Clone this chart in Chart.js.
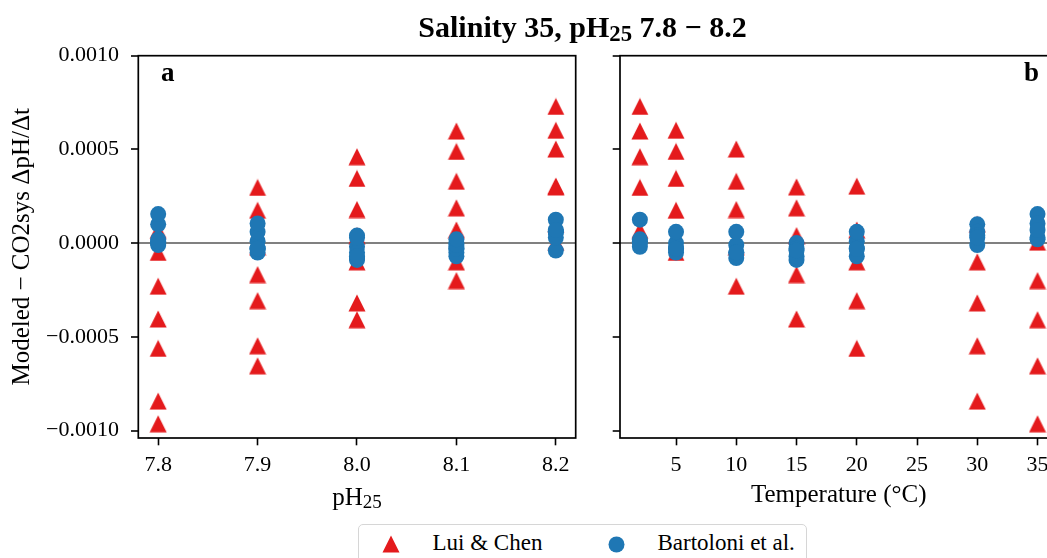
<!DOCTYPE html>
<html>
<head>
<meta charset="utf-8">
<script src="https://cdn.jsdelivr.net/npm/chart.js@4.4.0/dist/chart.umd.min.js"></script>
<style>
html, body { margin:0; padding:0; width:1047px; height:558px; overflow:hidden; background:#fff; }
body { position:relative; font-family:'Liberation Serif','Times New Roman',serif; color:#000; }
#cLeft { position:absolute; left:0; top:0; }
#cRight { position:absolute; left:600px; top:0; }
.txt { position:absolute; white-space:nowrap; line-height:1; }
.sub { position:relative; top:0.2em; font-size:0.76em; }
#title { left:582.5px; top:11.6px; font-size:30px; font-weight:bold; transform:translateX(-50%); }
#xlabL { left:357px; top:483.6px; font-size:25px; transform:translateX(-50%); }
#panA { left:161px; top:58.9px; font-size:27px; font-weight:bold; }
#panB { left:1039px; top:58.9px; font-size:27px; font-weight:bold; transform:translateX(-100%); }
#legend { position:absolute; left:358px; top:524px; width:449px; height:60px; border:1px solid #d6d6d6; border-radius:5px; background:#fff; box-sizing:border-box; }
.lt { font-size:23px; top:531.4px; }
.lm { position:absolute; }
</style>
</head>
<body>
<canvas id="cLeft" width="600" height="558"></canvas>
<canvas id="cRight" width="480" height="558"></canvas>
<div id="title" class="txt">Salinity 35, pH<span class="sub">25</span> 7.8 − 8.2</div>
<div id="xlabL" class="txt">pH<span class="sub">25</span></div>
<div id="panA" class="txt">a</div>
<div id="panB" class="txt">b</div>
<div id="legend"></div>
<script>
// ---------------- DATA ----------------
const temps = [2, 5, 10, 15, 20, 30, 35];
const pHs = [7.8, 7.9, 8.0, 8.1, 8.2];

// Lui & Chen: Modeled - CO2sys dpH/dt, one array per pH25, values over temps
const luiChen_78 = [0.000068, -0.00005, -0.00023, -0.000405, -0.000562, -0.000843, -0.000964];
const luiChen_79 = [0.000297, 0.000175, -0.00002, -0.000168, -0.000307, -0.000548, -0.000655];
const luiChen_80 = [0.000461, 0.000345, 0.000179, 0.00004, -0.0001, -0.000319, -0.000409];
const luiChen_81 = [0.000598, 0.000489, 0.00033, 0.000188, 0.00007, -0.0001, -0.0002];
const luiChen_82 = [0.000729, 0.000602, 0.000502, 0.0003, 0.000304, 0.0001, 0.000005];

// Bartoloni et al.
const bartoloni_78 = [0.00002, 0.0, -0.00001, 0.0, 0.00001, 0.0001, 0.000155];
const bartoloni_79 = [0.00001, -0.00003, -0.00005, -0.00003, -0.00003, 0.00006, 0.000105];
const bartoloni_80 = [-0.00002, -0.00005, -0.00008, -0.00009, -0.00007, 0.00004, 0.00003];
const bartoloni_81 = [0.0, -0.00003, -0.00005, -0.00007, -0.00003, -0.00001, 0.00002];
const bartoloni_82 = [0.000125, 0.00006, 0.00006, -0.00004, 0.00006, 0.00003, 0.00007];

const seriesNames = ['Lui & Chen', 'Bartoloni et al.'];

const xTicksPH = [7.8, 7.9, 8.0, 8.1, 8.2];
const xTickLabelsPH = ['7.8', '7.9', '8.0', '8.1', '8.2'];
const xTicksT = [5, 10, 15, 20, 25, 30, 35];
const xTickLabelsT = ['5', '10', '15', '20', '25', '30', '35'];
const yTicks = [-0.001, -0.0005, 0, 0.0005, 0.001];
const yTickLabels = ['\u22120.0010', '\u22120.0005', '0.0000', '0.0005', '0.0010'];

// ---------------- STYLE ----------------
const FONT = "'Liberation Serif', 'Times New Roman', serif";
const TICK_SIZE = 22;
const RED = '#e41a1c';
const BLUE = '#1f77b4';

const luiChen = [luiChen_78, luiChen_79, luiChen_80, luiChen_81, luiChen_82];
const bartoloni = [bartoloni_78, bartoloni_79, bartoloni_80, bartoloni_81, bartoloni_82];

function makeTriangle(size) {
  const c = document.createElement('canvas');
  c.width = size; c.height = size;
  const g = c.getContext('2d');
  g.fillStyle = RED;
  g.beginPath();
  g.moveTo(size / 2, 0.5);
  g.lineTo(0.5, size - 0.5);
  g.lineTo(size - 0.5, size - 0.5);
  g.closePath();
  g.fill();
  return c;
}
function makeCircle(size) {
  const c = document.createElement('canvas');
  c.width = size; c.height = size;
  const g = c.getContext('2d');
  g.fillStyle = BLUE;
  g.beginPath();
  g.arc(size / 2, size / 2, size / 2 - 0.5, 0, Math.PI * 2);
  g.fill();
  return c;
}
const triImg = makeTriangle(18);

function pointsBy(matrix, useTemp) {
  const pts = [];
  for (let i = 0; i < pHs.length; i++) {
    for (let j = 0; j < temps.length; j++) {
      pts.push({ x: useTemp ? temps[j] : pHs[i], y: matrix[i][j] });
    }
  }
  return pts;
}

function datasets(useTemp) {
  return [
    { label: seriesNames[0], data: pointsBy(luiChen, useTemp), pointStyle: triImg, pointRadius: 9,
      backgroundColor: RED, borderColor: RED, order: 1, showLine: false },
    { label: seriesNames[1], data: pointsBy(bartoloni, useTemp), pointStyle: 'circle', pointRadius: 8,
      backgroundColor: BLUE, borderColor: BLUE, borderWidth: 0, order: 0, showLine: false }
  ];
}

const frame = {
  id: 'frame',
  afterDraw(chart) {
    const { ctx, chartArea: a } = chart;
    ctx.save();
    ctx.strokeStyle = '#000';
    ctx.lineWidth = 1.7;
    ctx.strokeRect(a.left, a.top, a.right - a.left, a.bottom - a.top);
    ctx.restore();
  }
};

function yScale(showLabels) {
  const s = {
    type: 'linear', position: 'left', min: -0.00104, max: 0.001,
    afterBuildTicks: sc => { sc.ticks = yTicks.map(v => ({ value: v })); },
    afterFit: sc => { sc.width = showLabels ? 138.3 : 20; },
    ticks: { display: showLabels, autoSkip: false, padding: 12, color: '#000',
      font: { family: FONT, size: TICK_SIZE }, callback: (v, i) => yTickLabels[i] },
    grid: { drawOnChartArea: true, drawTicks: true, tickLength: 7.3, tickWidth: 1.6, tickColor: '#000',
      lineWidth: 2, color: c => (c.tick && c.tick.value === 0) ? '#808080' : 'rgba(0,0,0,0)' },
    border: { display: false }
  };
  if (showLabels) {
    s.title = { display: true, text: 'Modeled \u2212 CO2sys \u0394pH/\u0394t', color: '#000',
      font: { family: FONT, size: 25 }, padding: { top: 7.5, bottom: 0 } };
  }
  return s;
}

function xScale(min, max, ticks, labels, titleText) {
  const s = {
    type: 'linear', position: 'bottom', min: min, max: max,
    afterBuildTicks: sc => { sc.ticks = ticks.map(v => ({ value: v })); },
    afterFit: sc => { sc.height = 120; },
    ticks: { autoSkip: false, maxRotation: 0, minRotation: 0, padding: 6.5, color: '#000',
      font: { family: FONT, size: TICK_SIZE }, callback: (v, i) => labels[i] },
    grid: { drawOnChartArea: false, drawTicks: true, tickLength: 7.3, tickWidth: 1.6, tickColor: '#000' },
    border: { display: false }
  };
  if (titleText) {
    s.title = { display: true, text: titleText, color: '#000',
      font: { family: FONT, size: 25 }, padding: { top: 0, bottom: 47.2 } };
  }
  return s;
}

const common = {
  responsive: false, animation: false, devicePixelRatio: 1,
  plugins: { legend: { display: false }, tooltip: { enabled: false }, title: { display: false } },
  events: []
};

new Chart(document.getElementById('cLeft'), {
  type: 'scatter',
  data: { datasets: datasets(false) },
  options: Object.assign({}, common, {
    layout: { padding: { left: 0, top: 55.7, right: 24.3, bottom: 0 } },
    scales: {
      x: xScale(7.78, 8.22, xTicksPH, xTickLabelsPH, null),
      y: yScale(true)
    }
  }),
  plugins: [frame]
});

new Chart(document.getElementById('cRight'), {
  type: 'scatter',
  data: { datasets: datasets(true) },
  options: Object.assign({}, common, {
    layout: { padding: { left: 0, top: 55.7, right: 22.6, bottom: 0 } },
    scales: {
      x: xScale(0.35, 36.65, xTicksT, xTickLabelsT, 'Temperature (\u00B0C)'),
      y: yScale(false)
    }
  }),
  plugins: [frame]
});

// ---------------- LEGEND (HTML) ----------------
(function () {
  const body = document.body;
  const tri = makeTriangle(18);
  tri.className = 'lm'; tri.style.left = '381.7px'; tri.style.top = '535px';
  const cir = makeCircle(17);
  cir.className = 'lm'; cir.style.left = '607.5px'; cir.style.top = '535.5px';
  body.appendChild(tri); body.appendChild(cir);
  const t1 = document.createElement('div');
  t1.className = 'txt lt'; t1.style.left = '432.5px'; t1.textContent = seriesNames[0];
  const t2 = document.createElement('div');
  t2.className = 'txt lt'; t2.style.left = '657.5px'; t2.textContent = seriesNames[1];
  body.appendChild(t1); body.appendChild(t2);
})();
</script>
</body>
</html>
